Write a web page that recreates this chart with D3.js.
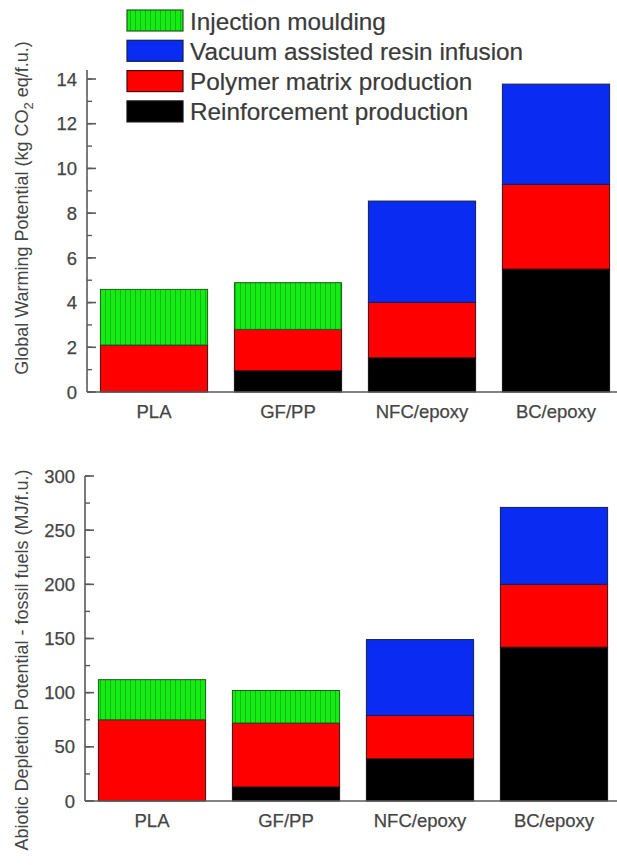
<!DOCTYPE html>
<html>
<head>
<meta charset="utf-8">
<script src="https://cdn.jsdelivr.net/npm/d3@7"></script>
<style>
  html, body { margin: 0; padding: 0; background: #fff; }
  svg { display: block; }
  text { font-family: "Liberation Sans", Arial, sans-serif; }
</style>
</head>
<body>
<svg id="chart" width="617" height="865"></svg>
<script>
// ---- data ----
const categories = ["PLA", "GF/PP", "NFC/epoxy", "BC/epoxy"];
const seriesNames = ["Reinforcement production", "Polymer matrix production", "Vacuum assisted resin infusion", "Injection moulding"];
const legendOrder = ["Injection moulding", "Vacuum assisted resin infusion", "Polymer matrix production", "Reinforcement production"];

// Global Warming Potential (kg CO2 eq/f.u.)
const gwpReinforcement = [0, 0.95, 1.53, 5.5];
const gwpPolymer       = [2.1, 1.85, 2.48, 3.79];
const gwpVacuum        = [0, 0, 4.53, 4.48];
const gwpInjection     = [2.49, 2.09, 0, 0];
const gwpTicks = [0, 2, 4, 6, 8, 10, 12, 14];

// Abiotic Depletion Potential - fossil fuels (MJ/f.u.)
const adpReinforcement = [0, 13, 39, 142];
const adpPolymer       = [75, 59, 40, 58];
const adpVacuum        = [0, 0, 70, 71];
const adpInjection     = [37, 30, 0, 0];
const adpTicks = [0, 50, 100, 150, 200, 250, 300];

const colors = {
  "Reinforcement production": "#000000",
  "Polymer matrix production": "#ff0000",
  "Vacuum assisted resin infusion": "#0a2cf2",
  "Injection moulding": "url(#hatch)"
};
const strokes = {
  "Reinforcement production": "#111",
  "Polymer matrix production": "#3a1010",
  "Vacuum assisted resin infusion": "#102050",
  "Injection moulding": "#1d5a1d"
};

const svg = d3.select("#chart");
const defs = svg.append("defs");
const pat = defs.append("pattern").attr("id", "hatch").attr("patternUnits", "userSpaceOnUse")
  .attr("width", 5).attr("height", 10);
pat.append("rect").attr("width", 5).attr("height", 10).attr("fill", "#14ec14");
pat.append("line").attr("x1", 0.5).attr("x2", 0.5).attr("y1", 0).attr("y2", 10)
  .attr("stroke", "#0cb80c").attr("stroke-width", 1);

const axisColor = "#5a5a5a";
const textColor = "#454545";

function panel(opts) {
  const { rows, max, topVal, y0, yTop, xRange, ticks, minorStep, titleParts, titleCenter } = opts;
  const x = d3.scaleBand().domain(categories).range(xRange).paddingInner(0.2).paddingOuter(0.1);
  const y = d3.scaleLinear().domain([0, max]).range([y0, yTop]);
  const g = svg.append("g");

  const data = categories.map((c, i) => {
    const o = { cat: c };
    seriesNames.forEach((s, k) => o[s] = rows[k][i]);
    return o;
  });
  const stack = d3.stack().keys(seriesNames)(data);
  stack.forEach(layer => {
    g.append("g").selectAll("rect").data(layer.filter(d => d[1] - d[0] > 0)).join("rect")
      .attr("x", d => x(d.data.cat))
      .attr("width", x.bandwidth())
      .attr("y", d => y(d[1]))
      .attr("height", d => y(d[0]) - y(d[1]))
      .attr("fill", colors[layer.key])
      .attr("stroke", strokes[layer.key])
      .attr("stroke-width", 1);
  });

  // y axis
  const ax = g.append("g");
  ax.append("line").attr("x1", xRange[0]).attr("x2", xRange[0])
    .attr("y1", y(0)).attr("y2", y(topVal))
    .attr("stroke", axisColor).attr("stroke-width", 1.6);
  const minor = d3.range(0, topVal + 1e-9, minorStep);
  ax.selectAll(".minor").data(minor).join("line")
    .attr("x1", xRange[0]).attr("x2", xRange[0] + 5)
    .attr("y1", d => y(d)).attr("y2", d => y(d))
    .attr("stroke", axisColor).attr("stroke-width", 1.4);
  ax.selectAll(".major").data(ticks).join("line")
    .attr("x1", xRange[0]).attr("x2", xRange[0] + 9)
    .attr("y1", d => y(d)).attr("y2", d => y(d))
    .attr("stroke", axisColor).attr("stroke-width", 1.6);
  ax.selectAll(".lbl").data(ticks).join("text")
    .attr("x", xRange[0] - 10).attr("y", d => y(d))
    .attr("dy", "0.36em")
    .attr("text-anchor", "end")
    .attr("font-size", 18.5).attr("fill", textColor)
    .attr("stroke", textColor).attr("stroke-width", 0.25)
    .text(d => d);

  // x axis line
  g.append("line").attr("x1", xRange[0]).attr("x2", 617)
    .attr("y1", y(0)).attr("y2", y(0))
    .attr("stroke", axisColor).attr("stroke-width", 1.6);
  g.selectAll(".cat").data(categories).join("text")
    .attr("x", d => x(d) + x.bandwidth() / 2)
    .attr("y", y(0) + 26)
    .attr("text-anchor", "middle")
    .attr("font-size", 18.5).attr("fill", textColor)
    .attr("stroke", textColor).attr("stroke-width", 0.25)
    .text(d => d);

  // title
  const t = g.append("text")
    .attr("transform", `translate(28,${titleCenter}) rotate(-90)`)
    .attr("text-anchor", "middle")
    .attr("font-size", 18).attr("fill", textColor);
  titleParts.forEach(p => {
    const ts = t.append("tspan").text(p.t);
    if (p.sub) ts.attr("font-size", 13).attr("dy", 5);
    if (p.after) ts.attr("dy", -5);
  });
}

panel({
  rows: [gwpReinforcement, gwpPolymer, gwpVacuum, gwpInjection],
  max: 14, topVal: 14.4, y0: 392, yTop: 79, xRange: [87, 623],
  ticks: gwpTicks, minorStep: 1,
  titleParts: [{ t: "Global Warming Potential (kg CO" }, { t: "2", sub: true }, { t: " eq/f.u.)", after: true }],
  titleCenter: 208
});

panel({
  rows: [adpReinforcement, adpPolymer, adpVacuum, adpInjection],
  max: 300, topVal: 300, y0: 801, yTop: 476, xRange: [85, 621],
  ticks: adpTicks, minorStep: 25,
  titleParts: [{ t: "Abiotic Depletion Potential - fossil fuels (MJ/f.u.)" }],
  titleCenter: 660
});

// legend
const lg = svg.append("g");
legendOrder.forEach((name, i) => {
  const yy = 10 + i * 30.3;
  lg.append("rect").attr("x", 127).attr("y", yy).attr("width", 56).attr("height", 21)
    .attr("fill", colors[name]).attr("stroke", strokes[name]).attr("stroke-width", 1.2);
  lg.append("text").attr("x", 190).attr("y", yy + 19.5)
    .attr("font-size", 24.3).attr("fill", "#3a3a3a")
    .attr("stroke", "#3a3a3a").attr("stroke-width", 0.2).text(name);
});
</script>
</body>
</html>
